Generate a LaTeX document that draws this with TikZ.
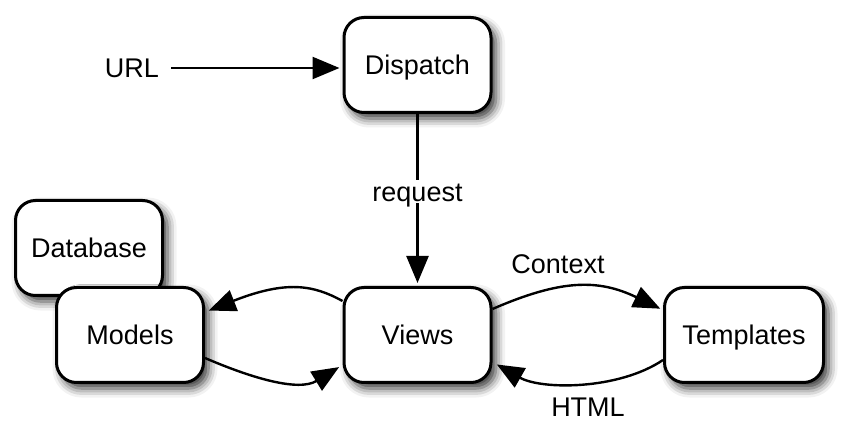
\documentclass[tikz,border=0pt]{standalone}
\usepackage{fontspec}
\setmainfont{Liberation Sans}
\usetikzlibrary{shadows.blur,arrows.meta,calc}
\begin{document}
\begin{tikzpicture}[x=1pt,y=-1pt,
 box/.style={draw=black, line width=3pt, fill=white, rounded corners=20pt,
   minimum width=147pt, minimum height=95pt, text height=19.5pt, text depth=0pt,
   font=\fontsize{27}{32}\selectfont,
   blur shadow={shadow xshift=5pt, shadow yshift=-6pt, shadow blur radius=9pt, shadow opacity=80}},
 lbl/.style={font=\fontsize{27}{32}\selectfont, text height=19.5pt, text depth=0pt, inner sep=2pt},
 conn/.style={line width=2.4pt, -{Triangle[length=27pt,width=22pt]}}
]
\useasboundingbox (0,0) rectangle (844,435);
\node[box] (db) at (89,248) {Database};
\node[box] (models) at (130,335) {Models};
\node[box] (views) at (417.5,335) {Views};
\node[box, minimum width=159pt] (tpl) at (744,335) {Templates};
\node[box] (disp) at (417.5,65) {Dispatch};

\node[lbl] (url) at (132,68) {URL};
\draw[conn, shorten <=10pt, shorten >=3pt] (url.east) -- (url.east -| disp.west);

\draw[conn, shorten >=3pt] (disp) -- (views) node[lbl, fill=white, pos=0.45] (req) {request};

\draw[conn, shorten >=4pt] ($(views.west)+(0,-34)$) .. controls +(-29,-16) and +(81.5,-32) .. ($(models.east)+(0,-23)$);
\draw[conn, shorten >=4pt] ($(models.east)+(0,23)$) .. controls +(46.5,20) and +(-44,27) .. ($(views.west)+(0,30)$);
\draw[conn, shorten >=3pt] ($(views.east)+(0,-26)$) .. controls +(69,-30) and +(-64.5,-31) .. ($(tpl.west)+(0,-25)$);
\draw[conn, shorten >=5pt] ($(tpl.west)+(0,25)$) .. controls +(-44.5,30) and +(49,28) .. ($(views.east)+(0,27)$);

\node[lbl] (ctxl) at (558,264) {Context};
\node[lbl] (html) at (588,407) {HTML};
\end{tikzpicture}
\end{document}
